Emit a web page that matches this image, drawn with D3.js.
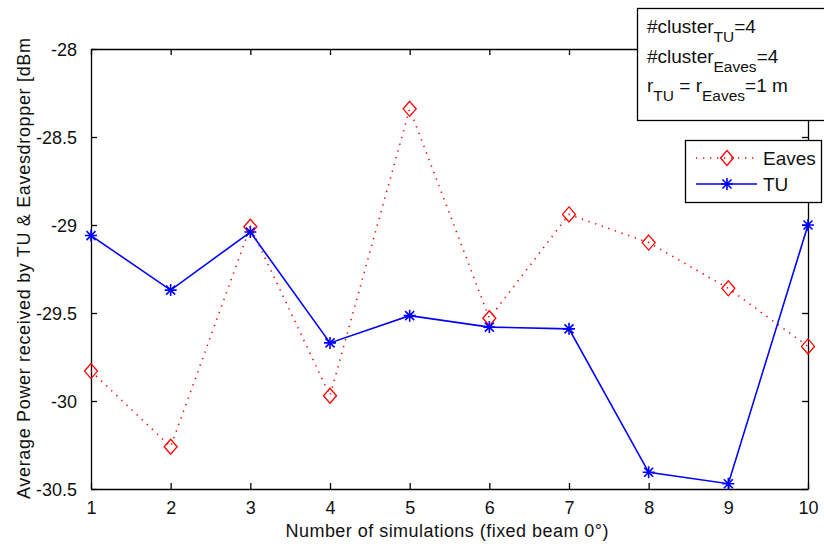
<!DOCTYPE html>
<html>
<head>
<meta charset="utf-8">
<script src="https://cdn.jsdelivr.net/npm/d3@7"></script>
<style>
  html, body { margin: 0; padding: 0; background: #fff; }
  svg { display: block; font-family: Arial, "Liberation Sans", sans-serif; }
</style>
</head>
<body>
<svg id="chart" width="824" height="548"></svg>
<script>
// ---- data ----
const simulations = [1, 2, 3, 4, 5, 6, 7, 8, 9, 10];
const eavesValues = [-29.83, -30.26, -29.01, -29.97, -28.34, -29.53, -28.94, -29.10, -29.36, -29.69];
const tuValues    = [-29.06, -29.37, -29.04, -29.67, -29.515, -29.58, -29.59, -30.405, -30.47, -29.00];
const xTicks = [1, 2, 3, 4, 5, 6, 7, 8, 9, 10];
const yTicks = [-30.5, -30, -29.5, -29, -28.5, -28];
const seriesNames = ["Eaves", "TU"];

(function () {
const svg = d3.select("#chart");
const mL = 91, mR = 808, mT = 49, mB = 489;

const x = d3.scaleLinear().domain([1, 10]).range([mL, mR]);
const y = d3.scaleLinear().domain([-30.5, -28]).range([mB, mT]);

const g = svg.append("g");

const xAxis = d3.axisBottom(x).tickValues(xTicks).tickSizeInner(-6).tickSizeOuter(0).tickPadding(12)
  .tickFormat(d3.format("d"));
const gx = g.append("g").attr("transform", `translate(0,${mB})`).call(xAxis);
const gxt = g.append("g").attr("transform", `translate(0,${mT})`)
  .call(d3.axisTop(x).tickValues(xTicks).tickSizeInner(-6).tickSizeOuter(0).tickFormat(""));
const yAxis = d3.axisLeft(y).tickValues(yTicks).tickSizeInner(-6).tickSizeOuter(0).tickPadding(14)
  .tickFormat(d => String(d));
const gy = g.append("g").attr("transform", `translate(${mL},0)`).call(yAxis);
const gyr = g.append("g").attr("transform", `translate(${mR},0)`)
  .call(d3.axisRight(y).tickValues(yTicks).tickSizeInner(-6).tickSizeOuter(0).tickFormat(""));

[gx, gxt, gy, gyr].forEach(a => {
  a.selectAll(".domain").attr("stroke", "#000").attr("stroke-width", 1.3);
  a.selectAll(".tick line").attr("stroke", "#000").attr("stroke-width", 1.3);
  a.selectAll("text").attr("fill", "#111").style("font-size", "18px")
    .style("font-family", "Arial, 'Liberation Sans', sans-serif");
});
gy.selectAll("text").attr("dy", "0.36em");
gx.selectAll("text").attr("dy", "0.72em");

const line = d3.line().x((d, i) => x(simulations[i])).y(d => y(d));

g.append("path").datum(eavesValues).attr("d", line)
  .attr("fill", "none").attr("stroke", "#ff0000").attr("stroke-width", 1.6)
  .attr("stroke-dasharray", "1.3,5.7").attr("stroke-linecap", "butt");
g.append("path").datum(tuValues).attr("d", line)
  .attr("fill", "none").attr("stroke", "#0000ff").attr("stroke-width", 1.6);

function diamond(sel, cx, cy) {
  sel.append("path")
    .attr("d", `M${cx},${cy - 7.5}L${cx + 6.5},${cy}L${cx},${cy + 7.5}L${cx - 6.5},${cy}Z`)
    .attr("fill", "none").attr("stroke", "#ff0000").attr("stroke-width", 1.3);
}
function asterisk(sel, cx, cy) {
  const r = 6, d = 4.5;
  sel.append("path")
    .attr("d", `M${cx - r},${cy}L${cx + r},${cy}M${cx},${cy - r}L${cx},${cy + r}` +
               `M${cx - d},${cy - d}L${cx + d},${cy + d}M${cx - d},${cy + d}L${cx + d},${cy - d}`)
    .attr("fill", "none").attr("stroke", "#0000ff").attr("stroke-width", 1.6);
}
const mk = g.append("g");
eavesValues.forEach((v, i) => diamond(mk, x(simulations[i]), y(v)));
tuValues.forEach((v, i) => asterisk(mk, x(simulations[i]), y(v)));

svg.append("text")
  .attr("x", 447).attr("y", 537).attr("text-anchor", "middle")
  .attr("textLength", 323).attr("lengthAdjust", "spacing")
  .style("font-size", "18px").attr("fill", "#111")
  .text("Number of simulations (fixed beam 0°)");

svg.append("text")
  .attr("transform", "translate(30,499) rotate(-90)")
  .attr("text-anchor", "start")
  .attr("textLength", 461).attr("lengthAdjust", "spacing")
  .style("font-size", "18px").attr("fill", "#111")
  .text("Average Power received by TU & Eavesdropper [dBm");

const ann = svg.append("g");
ann.append("rect").attr("x", 637.5).attr("y", 8.5).attr("width", 200).attr("height", 112)
  .attr("fill", "#fff").attr("stroke", "#000").attr("stroke-width", 1.3);
function annLine(yb, parts) {
  const t = ann.append("text").attr("x", 647).attr("y", yb).style("font-size", "19px").attr("fill", "#111");
  let shifted = false;
  parts.forEach(p => {
    if (p.sub) {
      t.append("tspan").attr("dy", 9).style("font-size", "15.5px").text(p.sub);
      shifted = true;
    } else {
      const ts = t.append("tspan").text(p.t);
      if (shifted) { ts.attr("dy", -9); shifted = false; }
    }
  });
}
annLine(33, [{t: "#cluster"}, {sub: "TU"}, {t: "=4"}]);
annLine(63, [{t: "#cluster"}, {sub: "Eaves"}, {t: "=4"}]);
annLine(92, [{t: "r"}, {sub: "TU"}, {t: " = r"}, {sub: "Eaves"}, {t: "=1 m"}]);

const leg = svg.append("g");
leg.append("rect").attr("x", 685.5).attr("y", 140.5).attr("width", 136).attr("height", 62)
  .attr("fill", "#fff").attr("stroke", "#000").attr("stroke-width", 1.3);
const legY = [158, 184];
seriesNames.forEach((name, i) => {
  const yy = legY[i];
  const ln = leg.append("line").attr("x1", 696).attr("x2", 757).attr("y1", yy).attr("y2", yy)
    .attr("stroke-width", 1.6);
  if (i === 0) {
    ln.attr("stroke", "#ff0000").attr("stroke-dasharray", "1.3,5.7");
    diamond(leg, 727, yy);
  } else {
    ln.attr("stroke", "#0000ff");
    asterisk(leg, 727, yy);
  }
  leg.append("text").attr("x", 763).attr("y", yy + 7).style("font-size", "19px")
    .attr("fill", "#111").text(name);
});
})();
</script>
</body>
</html>
